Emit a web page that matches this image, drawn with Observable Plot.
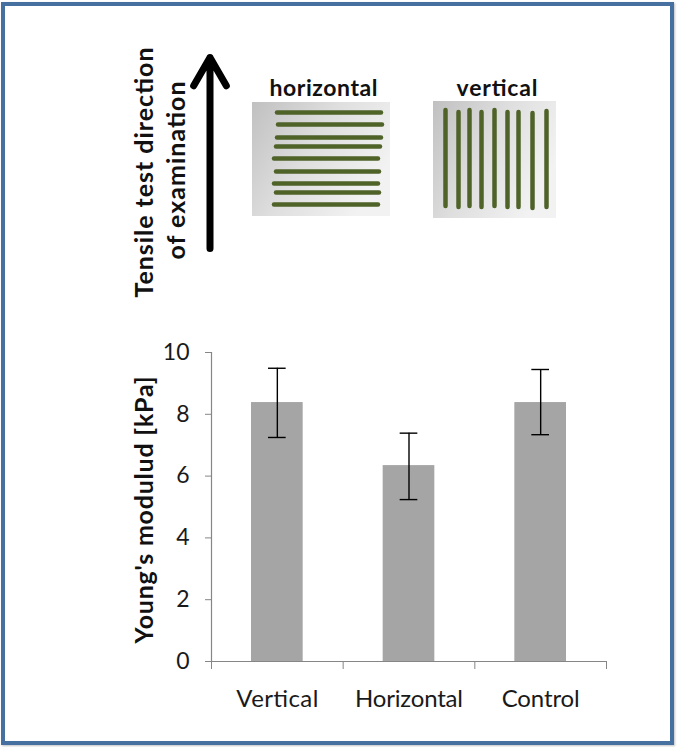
<!DOCTYPE html>
<html><head><meta charset="utf-8">
<script src="https://cdn.jsdelivr.net/npm/d3@7"></script>
<script src="https://cdn.jsdelivr.net/npm/@observablehq/plot@0.6"></script>
<style>
html,body{margin:0;padding:0;background:#fff;}
#root{position:relative;width:677px;height:747px;overflow:hidden;font-family:Lato,"Open Sans",sans-serif;}
#frame{position:absolute;left:1px;top:2px;width:673px;height:743px;box-sizing:border-box;border:4px solid #46709f;box-shadow:1px 1px 2px rgba(0,0,0,0.25);pointer-events:none;}
#illus{position:absolute;left:0;top:0;}
#chart{position:absolute;left:0;top:300px;}
</style></head><body>
<div id="root"><div id="illus"></div><div id="chart"></div><div id="frame"></div></div>
<script>
// ---------------- Data ----------------
const categories = ["Vertical", "Horizontal", "Control"];
const modulusMean = [8.38, 6.34, 8.38];
const errorLow = [7.25, 5.24, 7.34];
const errorHigh = [9.49, 7.39, 9.45];
const yTicks = [0, 2, 4, 6, 8, 10];
const yLabel = "Young's modulud [kPa]";
const panelLabels = ["horizontal", "vertical"];
const directionLabel = ["Tensile test direction", "of examination"];

// ---------------- Illustration layout (schematic, in page units) ----------------
const panelBoxes = [
  {x1: 252, x2: 390, y1: 102, y2: 216},
  {x1: 433, x2: 556, y1: 101, y2: 218}
];
const hLineY = [112, 124, 137, 146, 158, 171, 183, 192, 204];
const hLineX1 = [277, 278, 277, 276, 274, 276, 274, 276, 274];
const hLineX2 = [381, 382, 381, 380, 378, 379, 378, 379, 378];
const vLineX = [445, 458, 469, 481, 494, 507, 518, 532, 546];
const vLineY1 = [110, 112, 110, 112, 110, 112, 112, 113, 111];
const vLineY2 = [206, 207, 206, 207, 206, 207, 207, 208, 207];

const panels = panelLabels.map((label, k) => ({label, ...panelBoxes[k]}));
const hLines = hLineY.map((y, k) => ({y, x1: hLineX1[k], x2: hLineX2[k]}));
const vLines = vLineX.map((x, k) => ({x, y1: vLineY1[k], y2: vLineY2[k]}));
const dirRows = directionLabel.map((t, k) => ({t, x: [144, 176][k], y: [172, 170][k]}));

const illus = Plot.plot({
  width: 677, height: 300, margin: 0,
  x: {domain: [0, 677], axis: null},
  y: {domain: [0, 300], reverse: true, axis: null},
  style: {background: "transparent", fontFamily: "Lato, 'Open Sans', sans-serif", overflow: "visible"},
  marks: [
    Plot.rect(panels, {x1: "x1", x2: "x2", y1: "y1", y2: "y2", fill: "url(#panelGrad)"}),
    Plot.ruleY(hLines, {y: "y", x1: "x1", x2: "x2", stroke: "#4f6228", strokeWidth: 4.5, strokeLinecap: "round"}),
    Plot.ruleX(vLines, {x: "x", y1: "y1", y2: "y2", stroke: "#4f6228", strokeWidth: 4.5, strokeLinecap: "round"}),
    Plot.text(panels, {x: d => (d.x1 + d.x2) / 2 + 2, y: 95, text: "label", lineAnchor: "bottom", fontSize: 23, fontWeight: "bold", fill: "#111"}),
    Plot.arrow([{x1: 209.5, y1: 248, x2: 209.5, y2: 57}], {x1: "x1", y1: "y1", x2: "x2", y2: "y2", stroke: "#000", strokeWidth: 7, headLength: 7, headAngle: 60}),
    Plot.text(dirRows, {x: "x", y: "y", text: "t", rotate: -90, fontSize: 25, fontWeight: "bold", fill: "#111"})
  ]
});
{
  const defs = d3.select(illus).insert("defs", ":first-child");
  const g = defs.append("linearGradient").attr("id", "panelGrad")
    .attr("x1", "0").attr("y1", "0").attr("x2", "1").attr("y2", "0.5");
  g.append("stop").attr("offset", "0").attr("stop-color", "#c0c0c0");
  g.append("stop").attr("offset", "0.5").attr("stop-color", "#dedede");
  g.append("stop").attr("offset", "1").attr("stop-color", "#f2f2f2");
}
document.getElementById("illus").appendChild(illus);

// ---------------- Bar chart ----------------
const rows = categories.map((cat, i) => ({cat, i, mean: modulusMean[i], lo: errorLow[i], hi: errorHigh[i]}));

const chart = Plot.plot({
  width: 677, height: 420,
  marginLeft: 211, marginRight: 71, marginTop: 52, marginBottom: 59,
  style: {background: "transparent", fontFamily: "Lato, 'Open Sans', sans-serif", overflow: "visible"},
  x: {domain: [0, categories.length], axis: null, label: null},
  y: {domain: [0, 10], axis: null, label: null},
  marks: [
    Plot.rect(rows, {x1: "i", x2: d => d.i + 1, y1: 0, y2: "mean", fill: "#a5a5a5", insetLeft: 40, insetRight: 40}),
    Plot.ruleX(rows, {x: d => d.i + 0.5, y1: "lo", y2: "hi", stroke: "#000", strokeWidth: 1.4}),
    Plot.ruleY(rows, {y: "hi", x1: "i", x2: d => d.i + 1, insetLeft: 57, insetRight: 57, stroke: "#000", strokeWidth: 1.4}),
    Plot.ruleY(rows, {y: "lo", x1: "i", x2: d => d.i + 1, insetLeft: 57, insetRight: 57, stroke: "#000", strokeWidth: 1.4}),
    Plot.ruleX([0], {stroke: "#868686", strokeWidth: 1.2}),
    Plot.ruleY([0], {stroke: "#868686", strokeWidth: 1.2}),
    Plot.axisY({ticks: yTicks, tickSize: 6, tickPadding: 16, fontSize: 23, stroke: "#868686", fill: "#1a1a1a", label: null}),
    Plot.axisX({ticks: d3.range(categories.length + 1), tickSize: 8, tickFormat: () => "", stroke: "#868686", label: null}),
    Plot.axisX({ticks: categories.map((c, i) => i + 0.5), tickSize: 0, tickPadding: 28, tickFormat: d => categories[Math.floor(d)], fontSize: 24, fill: "#1a1a1a", label: null}),
    Plot.text([yLabel], {frameAnchor: "left", textAnchor: "middle", rotate: -90, dx: -67, dy: 3, fontSize: 25, fontWeight: "bold", fill: "#111"})
  ]
});
document.getElementById("chart").appendChild(chart);

// match text run lengths of the reference
const lengths = {
  "Tensile test direction": 250, "of examination": 178, "horizontal": 108, "vertical": 81,
  "Young's modulud [kPa]": 267, "Vertical": 82, "Horizontal": 108, "Control": 78
};
for (const svg of [illus, chart]) {
  d3.select(svg).selectAll("text").each(function() {
    const t = this.textContent;
    if (lengths[t]) this.setAttribute("textLength", lengths[t]);
  });
}
</script>
</body></html>
